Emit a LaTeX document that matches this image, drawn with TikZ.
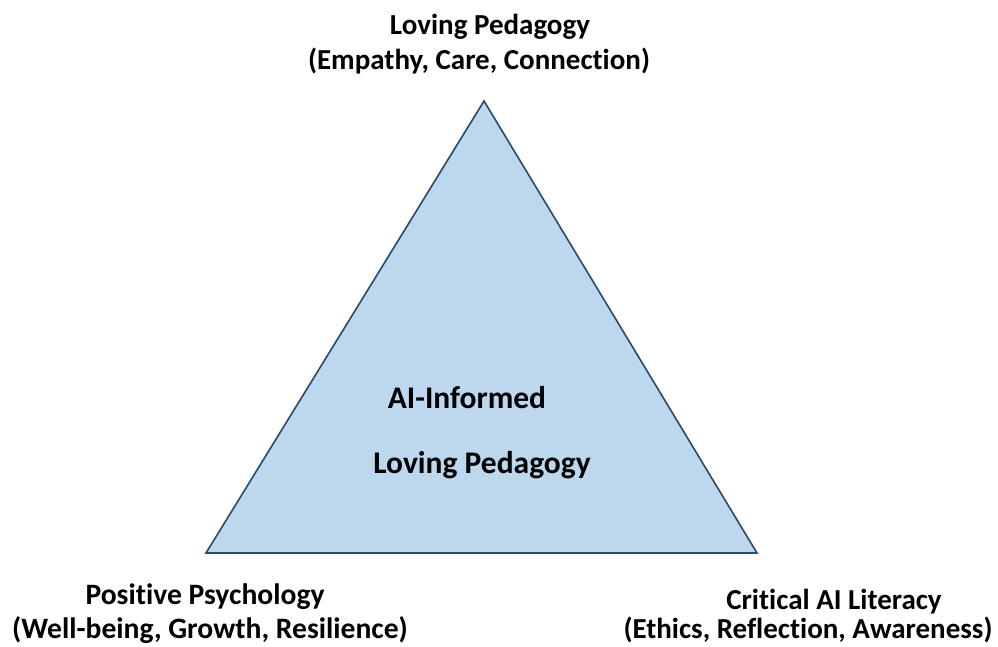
\documentclass[tikz,border=0pt]{standalone}
\usepackage{fontspec}
\setmainfont{Carlito}[Ligatures=NoCommon]
\definecolor{trifill}{HTML}{BDD7EE}
\definecolor{triline}{HTML}{2B4A68}
\begin{document}
\begin{tikzpicture}[x=1pt,y=-1pt,
  lbl/.style={font=\bfseries\fontsize{29}{34}\selectfont, text=black, inner sep=0pt, anchor=center},
  clbl/.style={lbl, font=\bfseries\fontsize{31.5}{36}\selectfont}]
\useasboundingbox (0,0) rectangle (998,647);
\coordinate (top) at (484,101);
\coordinate (bl) at (206,553);
\coordinate (br) at (757,553);
\draw[triline, fill=trifill, line width=1.6pt, line join=miter] (top) -- (br) -- (bl) -- cycle;
\node[lbl] (t1) at (490,27) {Loving Pedagogy};
\node[lbl] (t2) at (479,61) {(Empathy, Care, Connection)};
\node[lbl, font=\bfseries\fontsize{29.6}{34}\selectfont] (l1) at (205,597) {Positive Psychology};
\node[lbl, font=\bfseries\fontsize{29.6}{34}\selectfont] (l2) at (210,630) {(Well-being, Growth, Resilience)};
\node[lbl] (r1) at (834,602) {Critical AI Literacy};
\node[lbl] (r2) at (808,630) {(Ethics, Reflection, Awareness)};
\node[clbl] (c1) at (467,398) {AI-Informed};
\node[clbl] (c2) at (482,465) {Loving Pedagogy};
\end{tikzpicture}
\end{document}
